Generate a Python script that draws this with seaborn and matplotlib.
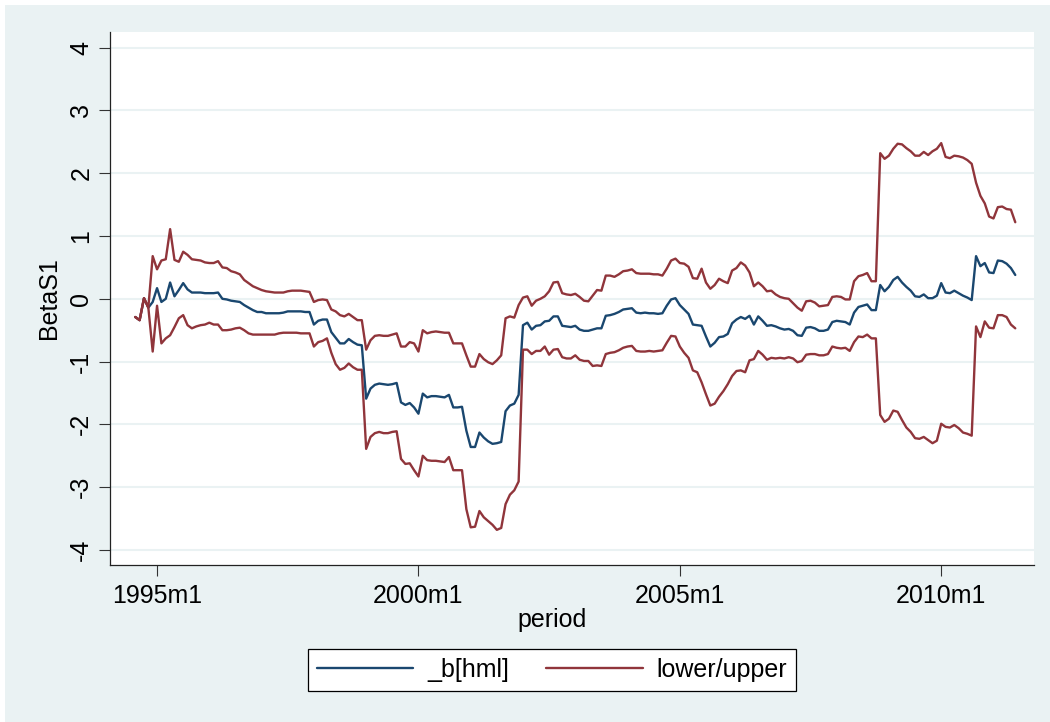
import numpy as np
import pandas as pd
import seaborn as sns
import matplotlib.pyplot as plt
from matplotlib.lines import Line2D
from matplotlib.patches import Rectangle

# rolling beta on hml, monthly, first obs is 1994m8 (month -5 counted from 1995m1)
first_month = -5
beta_hml = [
    -0.29, -0.34, 0.01, -0.14, -0.05,
    0.17, -0.05, 0.00, 0.26, 0.04, 0.14, 0.25, 0.15, 0.10, 0.10, 0.10, 0.09,
    0.09, 0.09, 0.10, 0.00, -0.01, -0.03, -0.04, -0.05, -0.10, -0.14, -0.18, -0.21,
    -0.21, -0.23, -0.23, -0.23, -0.23, -0.22, -0.20, -0.20, -0.20, -0.20, -0.21, -0.21,
    -0.41, -0.35, -0.33, -0.33, -0.53, -0.62, -0.71, -0.71, -0.64, -0.69, -0.73, -0.74,
    -1.59, -1.43, -1.37, -1.35, -1.36, -1.37, -1.36, -1.34, -1.65, -1.69, -1.66, -1.73,
    -1.83, -1.51, -1.57, -1.55, -1.55, -1.56, -1.57, -1.53, -1.73, -1.73, -1.72, -2.10,
    -2.36, -2.36, -2.13, -2.21, -2.27, -2.31, -2.30, -2.28, -1.79, -1.70, -1.67, -1.53,
    -0.42, -0.38, -0.49, -0.43, -0.42, -0.36, -0.35, -0.28, -0.28, -0.43, -0.44, -0.45,
    -0.43, -0.49, -0.51, -0.51, -0.49, -0.47, -0.47, -0.27, -0.26, -0.24, -0.21, -0.17,
    -0.16, -0.15, -0.22, -0.23, -0.22, -0.23, -0.23, -0.24, -0.23, -0.11, -0.01, 0.01,
    -0.10, -0.17, -0.24, -0.41, -0.42, -0.43, -0.60, -0.76, -0.70, -0.61, -0.60, -0.56,
    -0.39, -0.33, -0.29, -0.32, -0.27, -0.41, -0.28, -0.35, -0.43, -0.42, -0.44, -0.47,
    -0.49, -0.48, -0.51, -0.58, -0.59, -0.46, -0.45, -0.47, -0.51, -0.51, -0.49, -0.37,
    -0.35, -0.36, -0.37, -0.41, -0.22, -0.13, -0.11, -0.09, -0.18, -0.18, 0.22, 0.12,
    0.19, 0.30, 0.35, 0.26, 0.19, 0.13, 0.04, 0.03, 0.07, 0.01, 0.01, 0.05,
    0.25, 0.10, 0.09, 0.13, 0.09, 0.05, 0.02, -0.02, 0.68, 0.52, 0.57, 0.42,
    0.41, 0.61, 0.60, 0.56, 0.49, 0.38,
]
upper = [
    -0.29, -0.34, 0.01, -0.14, 0.68,
    0.47, 0.61, 0.63, 1.11, 0.62, 0.59, 0.75, 0.70, 0.63, 0.62, 0.61, 0.58,
    0.57, 0.57, 0.60, 0.50, 0.49, 0.44, 0.42, 0.39, 0.30, 0.25, 0.20, 0.17,
    0.14, 0.12, 0.11, 0.10, 0.10, 0.10, 0.12, 0.13, 0.13, 0.13, 0.12, 0.11,
    -0.05, -0.02, -0.01, -0.02, -0.17, -0.20, -0.26, -0.28, -0.24, -0.29, -0.34, -0.34,
    -0.81, -0.66, -0.59, -0.58, -0.59, -0.59, -0.57, -0.55, -0.76, -0.76, -0.69, -0.71,
    -0.84, -0.50, -0.55, -0.53, -0.52, -0.53, -0.54, -0.54, -0.71, -0.71, -0.71, -0.90,
    -1.08, -1.08, -0.88, -0.96, -1.01, -1.04, -0.98, -0.90, -0.31, -0.28, -0.30, -0.10,
    0.02, 0.04, -0.11, -0.03, 0.00, 0.04, 0.12, 0.26, 0.27, 0.09, 0.07, 0.06,
    0.08, 0.03, -0.03, -0.04, 0.05, 0.14, 0.13, 0.37, 0.37, 0.35, 0.39, 0.44,
    0.45, 0.47, 0.41, 0.40, 0.40, 0.40, 0.39, 0.39, 0.37, 0.48, 0.61, 0.64,
    0.57, 0.56, 0.51, 0.33, 0.32, 0.48, 0.26, 0.16, 0.22, 0.32, 0.28, 0.25,
    0.45, 0.49, 0.58, 0.53, 0.42, 0.20, 0.26, 0.20, 0.12, 0.13, 0.07, 0.03,
    0.01, 0.00, -0.07, -0.14, -0.19, -0.04, -0.03, -0.06, -0.12, -0.11, -0.10, 0.03,
    0.04, 0.03, -0.01, -0.01, 0.28, 0.36, 0.38, 0.41, 0.28, 0.28, 2.32, 2.23,
    2.28, 2.39, 2.47, 2.46, 2.40, 2.35, 2.28, 2.28, 2.34, 2.29, 2.35, 2.39,
    2.48, 2.26, 2.24, 2.28, 2.27, 2.25, 2.21, 2.15, 1.85, 1.64, 1.52, 1.31,
    1.28, 1.46, 1.47, 1.43, 1.42, 1.22,
]
lower = [
    -0.29, -0.34, 0.01, -0.14, -0.84,
    -0.11, -0.71, -0.63, -0.58, -0.45, -0.31, -0.26, -0.42, -0.47, -0.44, -0.42, -0.41,
    -0.38, -0.41, -0.41, -0.50, -0.50, -0.49, -0.47, -0.46, -0.50, -0.55, -0.57, -0.57,
    -0.57, -0.57, -0.57, -0.57, -0.55, -0.54, -0.54, -0.54, -0.54, -0.55, -0.55, -0.55,
    -0.76, -0.69, -0.67, -0.63, -0.86, -1.04, -1.13, -1.10, -1.03, -1.09, -1.13, -1.13,
    -2.39, -2.20, -2.14, -2.12, -2.14, -2.14, -2.12, -2.11, -2.55, -2.63, -2.62, -2.73,
    -2.83, -2.50, -2.57, -2.58, -2.58, -2.59, -2.60, -2.52, -2.73, -2.73, -2.73, -3.35,
    -3.64, -3.63, -3.38, -3.48, -3.54, -3.60, -3.68, -3.65, -3.27, -3.12, -3.05, -2.91,
    -0.81, -0.81, -0.88, -0.83, -0.83, -0.76, -0.89, -0.81, -0.80, -0.93, -0.95, -0.95,
    -0.90, -0.97, -0.99, -0.99, -1.07, -1.06, -1.07, -0.88, -0.86, -0.85, -0.82, -0.78,
    -0.76, -0.75, -0.83, -0.84, -0.84, -0.83, -0.84, -0.83, -0.82, -0.70, -0.59, -0.60,
    -0.76, -0.86, -0.94, -1.14, -1.17, -1.33, -1.52, -1.70, -1.67, -1.56, -1.47, -1.36,
    -1.23, -1.15, -1.14, -1.17, -0.98, -0.96, -0.83, -0.89, -0.97, -0.94, -0.95, -0.94,
    -0.95, -0.93, -0.95, -1.01, -0.99, -0.89, -0.88, -0.88, -0.90, -0.90, -0.88, -0.76,
    -0.78, -0.79, -0.78, -0.83, -0.69, -0.60, -0.61, -0.57, -0.63, -0.63, -1.85, -1.96,
    -1.91, -1.78, -1.80, -1.93, -2.05, -2.12, -2.22, -2.23, -2.20, -2.25, -2.30, -2.26,
    -1.99, -2.04, -2.05, -2.01, -2.06, -2.13, -2.15, -2.18, -0.44, -0.61, -0.36, -0.46,
    -0.47, -0.26, -0.26, -0.29, -0.41, -0.47,
]
tick_months = [0, 60, 120, 180]
tick_labels = ["1995m1", "2000m1", "2005m1", "2010m1"]
y_ticks = [-4, -3, -2, -1, 0, 1, 2, 3, 4]

period = np.arange(first_month, first_month + len(beta_hml))
df = pd.DataFrame({"period": period, "b": beta_hml, "lower": lower, "upper": upper})

navy = "#1A476F"
maroon = "#90353B"
bg = "#EAF2F3"
fs = 18

sns.set_style("ticks")
plt.rcParams['font.family'] = ['Liberation Sans', 'DejaVu Sans']
plt.rcParams['font.size'] = fs
plt.rcParams['text.color'] = 'black'
plt.rcParams['xtick.color'] = 'black'
plt.rcParams['ytick.color'] = 'black'

fig = plt.figure(figsize=(10.5, 7.22), dpi=100)
fig.patch.set_facecolor("white")
fig.patches.append(Rectangle((5 / 1050, 0), 1, 717 / 722, transform=fig.transFigure,
                             facecolor=bg, edgecolor="none", zorder=-5))

ax = fig.add_axes([110 / 1050, 157 / 722, 924 / 1050, 533 / 722])
ax.set_facecolor("white")

for yv in y_ticks:
    ax.axhline(yv, color=bg, linewidth=1.5, zorder=0)

sns.lineplot(data=df, x="period", y="b", ax=ax, color=navy, linewidth=1.7)
sns.lineplot(data=df, x="period", y="lower", ax=ax, color=maroon, linewidth=1.7)
sns.lineplot(data=df, x="period", y="upper", ax=ax, color=maroon, linewidth=1.7)

ax.set_xlim(-10.8, 201.3)
ax.set_ylim(-4.24, 4.25)
ax.set_xticks(tick_months)
ax.set_xticklabels(tick_labels)
ax.set_yticks(y_ticks)
ax.set_yticklabels([str(v) for v in y_ticks], rotation=90, va="center")
ax.tick_params(axis="both", length=8, width=0.8, color="#333333", labelsize=fs,
               labelcolor="black")
ax.tick_params(axis="x", pad=6)
ax.tick_params(axis="y", pad=4)
ax.set_xlabel("")
ax.set_ylabel("")
for side in ["top", "right"]:
    ax.spines[side].set_visible(False)
for side in ["left", "bottom"]:
    ax.spines[side].set_linewidth(0.9)
    ax.spines[side].set_color("#222222")

fig.text(49 / 1050, 1 - 298 / 722, "BetaS1", rotation=90, ha="center", va="center",
         fontsize=fs, color="black")
fig.text(552 / 1050, 1 - 627 / 722, "period", ha="center", va="baseline",
         fontsize=fs, color="black")

handles = [Line2D([], [], color=navy, linewidth=1.7),
           Line2D([], [], color=maroon, linewidth=1.7)]
leg = fig.legend(handles, ["_b[hml]", "lower/upper"], loc="center",
                 bbox_to_anchor=(552 / 1050, 1 - 670 / 722), ncol=2, fontsize=fs,
                 frameon=True, fancybox=False, edgecolor="black", framealpha=1,
                 handlelength=3.85, handletextpad=0.55, columnspacing=1.5,
                 borderpad=0.35, borderaxespad=0)
leg.get_frame().set_linewidth(0.9)
for t in leg.get_texts():
    t.set_color("black")

fig.savefig("out.png", dpi=100, facecolor=fig.get_facecolor())
